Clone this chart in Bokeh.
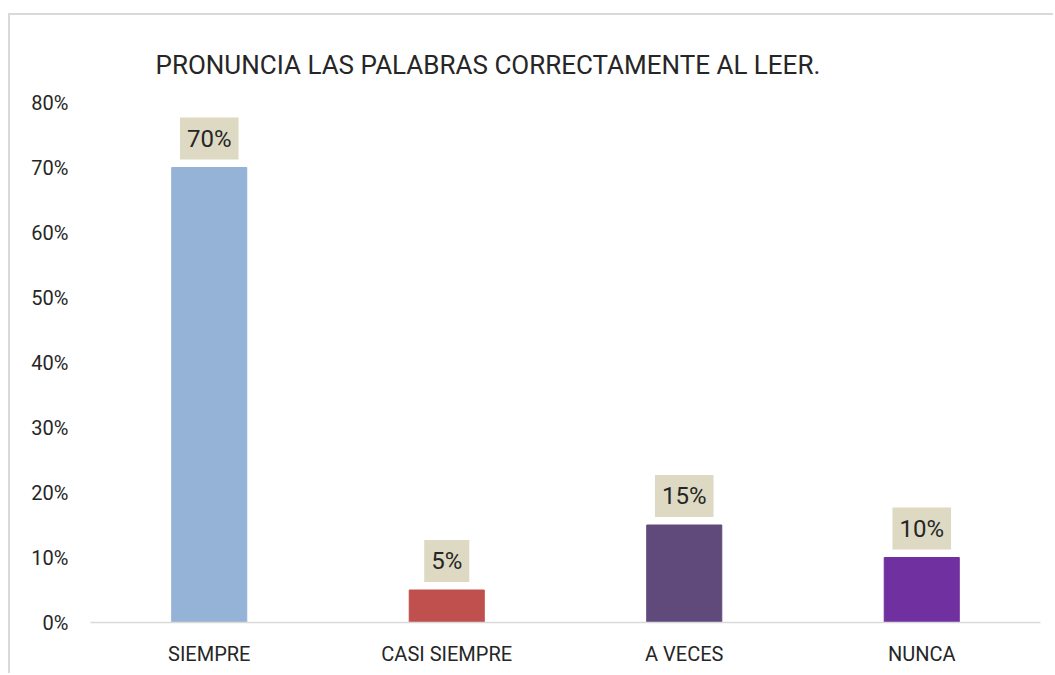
from bokeh.plotting import figure
from bokeh.models import ColumnDataSource, Range1d, NumeralTickFormatter, FixedTicker
from bokeh.core.properties import value
from bokeh.embed import file_html
from bokeh.resources import INLINE

categories = ["SIEMPRE", "CASI SIEMPRE", "A VECES", "NUNCA"]
values = [0.70, 0.05, 0.15, 0.10]
labels = ["70%", "5%", "15%", "10%"]
colors = ["#95B3D7", "#C0504D", "#604A7B", "#7030A0"]
y_ticks = [0.0, 0.1, 0.2, 0.3, 0.4, 0.5, 0.6, 0.7, 0.8]
title_text = "PRONUNCIA LAS PALABRAS CORRECTAMENTE AL LEER."

FONT = "Roboto"
TEXT_COLOR = "#262626"

src = ColumnDataSource(dict(cat=categories, val=values, lab=labels, col=colors))

p = figure(x_range=categories, y_range=Range1d(0, 0.8), width=1045, height=660,
           output_backend="svg", toolbar_location=None,
           min_border_left=80, min_border_right=15, min_border_top=87, min_border_bottom=53)
p.styles = {"border-top": "2px solid #D9D9D9", "border-left": "2px solid #D9D9D9",
            "margin-top": "13px", "margin-left": "8px"}

p.title.text = title_text
p.title.text_font = FONT
p.title.text_font_size = "26px"
p.title.text_font_style = "normal"
p.title.text_color = TEXT_COLOR
p.title.align = "left"
p.title.offset = 65
p.title.standoff = 46

p.vbar(x="cat", top="val", width=0.316, color="col", source=src)

p.text(x="cat", y="val", text="lab", source=src, anchor="bottom_center",
       y_offset=-8, text_font=value(FONT), text_font_size="24px",
       text_color=TEXT_COLOR, background_fill_color="#DDD9C3", padding=7)

p.xgrid.visible = False
p.ygrid.visible = False
p.outline_line_color = None
p.background_fill_color = "white"
p.border_fill_color = "white"

p.yaxis.ticker = FixedTicker(ticks=y_ticks)
p.yaxis.formatter = NumeralTickFormatter(format="0%")
p.yaxis.axis_line_color = None
p.yaxis.major_tick_line_color = None
p.yaxis.minor_tick_line_color = None
p.yaxis.major_tick_out = 0
p.yaxis.minor_tick_out = 0
p.yaxis.major_label_standoff = 22
p.yaxis.major_label_text_font = FONT
p.yaxis.major_label_text_font_size = "20px"
p.yaxis.major_label_text_color = TEXT_COLOR

p.xaxis.axis_line_color = "#D9D9D9"
p.xaxis.axis_line_width = 1.5
p.xaxis.major_tick_line_color = None
p.xaxis.minor_tick_line_color = None
p.xaxis.major_tick_out = 0
p.xaxis.minor_tick_out = 0
p.xaxis.major_label_standoff = 19
p.xaxis.major_label_text_font = FONT
p.xaxis.major_label_text_font_size = "20px"
p.xaxis.major_label_text_color = TEXT_COLOR

open("out.html", "w").write(file_html(p, INLINE))
